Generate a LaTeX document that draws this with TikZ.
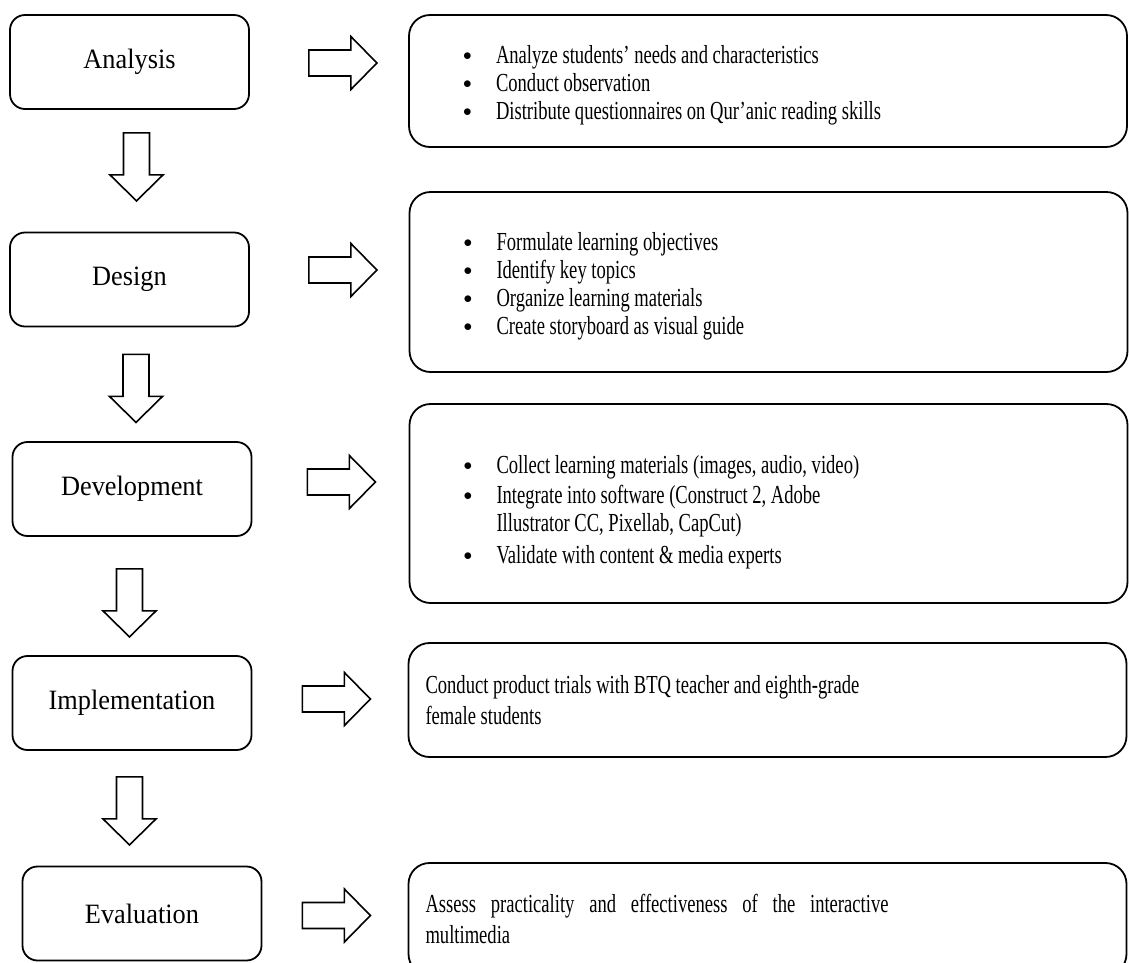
\documentclass[tikz,border=0pt]{standalone}
\usepackage{fontspec}
\setmainfont{Liberation Serif}
\newfontfamily\phasefont[FakeStretch=0.94]{Liberation Serif}
\newfontfamily\narrowserif[FakeStretch=0.715]{Liberation Serif}
\usetikzlibrary{calc}

\DeclareRobustCommand{\taskfont}{\narrowserif\fontsize{26}{28}\selectfont\fontdimen2\font=4.6pt\relax}
\newcommand{\bul}{\makebox[33pt][l]{\raisebox{3pt}{\fontsize{17}{0}\selectfont$\bullet$}}}
\newcommand{\toppad}[1][27]{\rule{0pt}{#1pt}}

\begin{document}
\begin{tikzpicture}[x=1pt, y=-1pt,
		phase/.style={draw, line width=1.8pt, rounded corners=15pt, minimum width=239pt, minimum height=94pt, inner sep=0pt, font=\phasefont\fontsize{28}{30}\selectfont},
		task/.style={draw, line width=1.8pt, rounded corners=21pt, minimum width=718pt, inner ysep=0pt, align=flush left, font=\taskfont},
		tasklist/.style={task, inner xsep=54pt, text width=610pt},
		tasktext/.style={task, inner xsep=17pt, text width=684pt},
		blockarrow/.style={draw, line width=1.6pt, fill=white},
		downblock/.pic={\draw[blockarrow] (-13,0) -- (13,0) -- (13,42) -- (26.5,42) -- (0,68) -- (-26.5,42) -- (-13,42) -- cycle;},
		rightblock/.pic={\draw[blockarrow] (0,-13) -- (42,-13) -- (42,-26.5) -- (68,0) -- (42,26.5) -- (42,13) -- (0,13) -- cycle;}]
		
		\useasboundingbox (0,0) rectangle (1129,962);
		\clip (0,0) rectangle (1129,962);
		\fill[white] (0,0) rectangle (1129,962);
		
		% Phase nodes (left column)
		\node[phase] (analysis) at (129.5,62) {Analysis};
		\node[phase] (design) at (129.5,279.5) {Design};
		\node[phase] (development) at (132,489) {Development};
		\node[phase] (implementation) at (132,703) {Implementation};
		\node[phase] (evaluation) at (142,913.5) {Evaluation};
		
		% Task boxes (right column)
		\node[tasklist, minimum height=132pt] (analysisTasks) at (768,81) {%
			\toppad\bul Analyze students’ needs and characteristics\\
			\bul Conduct observation\\
			\bul Distribute questionnaires on Qur’anic reading skills};
		
		\node[tasklist, minimum height=180pt] (designTasks) at (768.5,282) {%
			\toppad\bul Formulate learning objectives\\
			\bul Identify key topics\\
			\bul Organize learning materials\\
			\bul Create storyboard as visual guide};
		
		\node[tasklist, minimum height=199pt] (developmentTasks) at (768.5,503.5) {%
			\toppad[35]\bul Collect learning materials (images, audio, video)\\[2pt]
			\bul Integrate into software (Construct 2, Adobe\\
			\hspace*{33pt}Illustrator CC, Pixellab, CapCut)\\[4pt]
			\bul Validate with content \& media experts};
		
		\node[tasktext, minimum height=114pt] (implementationTasks) at (767.5,700) {%
			Conduct product trials with BTQ teacher and eighth-grade\\[3pt]
			female students};
		
		\node[tasktext, minimum height=112pt] (evaluationTasks) at (767.5,919) {%
			\makebox[463pt][l]{Assess\hfill practicality\hfill and\hfill effectiveness\hfill of\hfill the\hfill interactive}\\[3pt]
			multimedia};
		
		% Arrows between phases
		\foreach \src/\dx/\dy in {analysis/7/23, design/6.5/27, development/-2.5/32, implementation/-2.5/26} {
			\pic at ($(\src.south)+(\dx,\dy)$) {downblock};
		}
		
		% Arrows from phases to their tasks
		\foreach \src/\dx/\dy in {analysis/59/1, design/59/-9.5, development/55/-7, implementation/50/-4, evaluation/40/2} {
			\pic at ($(\src.east)+(\dx,\dy)$) {rightblock};
		}
	\end{tikzpicture}
\end{document}
